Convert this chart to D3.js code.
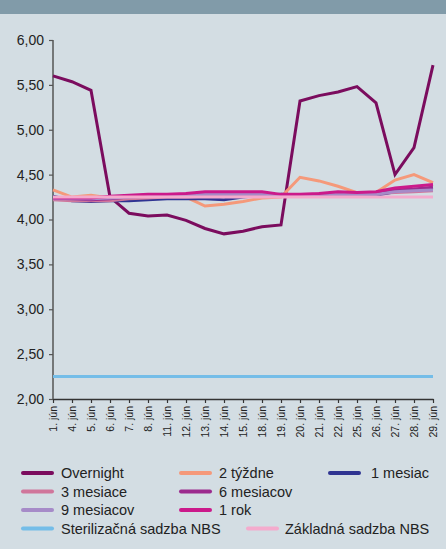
<!DOCTYPE html>
<html>
<head>
<meta charset="utf-8">
<script src="https://cdn.jsdelivr.net/npm/d3@7"></script>
<style>
  body { margin: 0; background: #d3dde3; }
  svg { display: block; }
  text { font-family: "Liberation Sans", Arial, sans-serif; fill: #222; }
</style>
</head>
<body>
<svg id="chart" width="446" height="549"></svg>
<script>
// dni v juni
var dates = ["1. jún", "4. jún", "5. jún", "6. jún", "7. jún", "8. jún", "11. jún", "12. jún", "13. jún", "14. jún",
    "15. jún", "18. jún", "19. jún", "20. jún", "21. jún", "22. jún", "25. jún", "26. jún", "27. jún", "28. jún", "29. jún"];
var yTicks = [2.0, 2.5, 3.0, 3.5, 4.0, 4.5, 5.0, 5.5, 6.0];

var overnight = [5.60, 5.535, 5.44, 4.25, 4.07, 4.04, 4.05, 3.99, 3.90, 3.84, 3.87, 3.92, 3.94, 5.32, 5.38, 5.42, 5.48, 5.30, 4.50, 4.80, 5.72];
var tyzdne2 = [4.33, 4.25, 4.27, 4.24, 4.24, 4.25, 4.26, 4.25, 4.15, 4.17, 4.20, 4.24, 4.25, 4.47, 4.43, 4.37, 4.30, 4.30, 4.44, 4.50, 4.41];
var mesiac1 = [4.26, 4.21, 4.20, 4.21, 4.21, 4.22, 4.23, 4.23, 4.23, 4.22, 4.25, 4.27, 4.28, 4.27, 4.27, 4.27, 4.27, 4.27, 4.31, 4.33, 4.34];
var mesiace3 = [4.22, 4.21, 4.21, 4.21, 4.23, 4.24, 4.25, 4.25, 4.26, 4.26, 4.26, 4.26, 4.26, 4.26, 4.27, 4.28, 4.28, 4.29, 4.30, 4.31, 4.32];
var mesiacov6 = [4.24, 4.23, 4.22, 4.23, 4.25, 4.26, 4.27, 4.28, 4.29, 4.29, 4.29, 4.29, 4.27, 4.27, 4.28, 4.29, 4.29, 4.29, 4.33, 4.34, 4.36];
var mesiacov9 = [4.23, 4.23, 4.23, 4.24, 4.25, 4.26, 4.27, 4.27, 4.28, 4.28, 4.28, 4.28, 4.27, 4.27, 4.28, 4.28, 4.28, 4.28, 4.31, 4.32, 4.33];
var rok1 = [4.24, 4.24, 4.24, 4.26, 4.27, 4.28, 4.28, 4.29, 4.31, 4.31, 4.31, 4.31, 4.28, 4.28, 4.29, 4.31, 4.30, 4.31, 4.35, 4.37, 4.39];
var sterilizacna = [2.25, 2.25, 2.25, 2.25, 2.25, 2.25, 2.25, 2.25, 2.25, 2.25, 2.25, 2.25, 2.25, 2.25, 2.25, 2.25, 2.25, 2.25, 2.25, 2.25, 2.25];
var zakladna = [4.25, 4.25, 4.25, 4.25, 4.25, 4.25, 4.25, 4.25, 4.25, 4.25, 4.25, 4.25, 4.25, 4.25, 4.25, 4.25, 4.25, 4.25, 4.25, 4.25, 4.25];

var series = [
    {name: "Overnight", values: overnight, color: "#7b0c5e", col: 0, row: 0},
    {name: "2 týždne", values: tyzdne2, color: "#f5997a", col: 1, row: 0},
    {name: "1 mesiac", values: mesiac1, color: "#2f3492", col: 2, row: 0},
    {name: "3 mesiace", values: mesiace3, color: "#d0769b", col: 0, row: 1},
    {name: "6 mesiacov", values: mesiacov6, color: "#9c2b8e", col: 1, row: 1},
    {name: "9 mesiacov", values: mesiacov9, color: "#a68bc8", col: 0, row: 2},
    {name: "1 rok", values: rok1, color: "#cb1a8b", col: 1, row: 2},
    {name: "Sterilizačná sadzba NBS", values: sterilizacna, color: "#74bde8", col: 0, row: 3},
    {name: "Základná sadzba NBS", values: zakladna, color: "#f4abcd", col: 3, row: 3}
];

var svg = d3.select('#chart');

// horny pruh
svg.append('rect').attr('x', 0).attr('y', 0).attr('width', 446).attr('height', 14).attr('fill', '#819ba9');

var x = d3.scalePoint().domain(dates).range([53, 433]);
var y = d3.scaleLinear().domain([2, 6]).range([399, 40]);

// os y
var yAxis = svg.append('g')
    .attr('transform', 'translate(53,0)')
    .call(d3.axisLeft(y).tickValues(yTicks).tickSize(4).tickPadding(5)
        .tickFormat(function (d) { return d3.format('.2f')(d).replace('.', ','); }));
yAxis.select('.domain').attr('stroke', '#555').attr('stroke-width', 1.5).attr('d', 'M0,40V399');
yAxis.selectAll('.tick line').attr('stroke', '#555').attr('stroke-width', 1.2);
yAxis.selectAll('.tick text').attr('font-size', 14).attr('fill', '#222')
    .style('font-family', '"Liberation Sans", Arial, sans-serif');

// os x
var xAxis = svg.append('g')
    .attr('transform', 'translate(0,399)')
    .call(d3.axisBottom(x).tickSize(4).tickSizeOuter(0));
xAxis.select('.domain').attr('stroke', '#333').attr('stroke-width', 1.5);
xAxis.selectAll('.tick line').attr('stroke', '#333').attr('stroke-width', 1.2);
xAxis.selectAll('.tick text')
    .attr('font-size', 10.5)
    .attr('fill', '#222')
    .style('font-family', '"Liberation Sans", Arial, sans-serif')
    .attr('text-anchor', 'end')
    .attr('transform', 'rotate(-90)')
    .attr('x', -7)
    .attr('y', 0)
    .attr('dy', '0.35em');

// ciary
var line = d3.line()
    .x(function (d, i) { return x(dates[i]); })
    .y(function (d) { return y(d); });

svg.append('g').selectAll('path')
    .data(series)
    .enter().append('path')
    .attr('d', function (d) { return line(d.values); })
    .attr('fill', 'none')
    .attr('stroke', function (d) { return d.color; })
    .attr('stroke-width', 3)
    .attr('stroke-linejoin', 'miter');

// legenda
var colX = [23, 181, 330, 248];
var legend = svg.append('g').selectAll('g')
    .data(series)
    .enter().append('g')
    .attr('transform', function (d) {
        return 'translate(' + colX[d.col] + ',' + (473 + d.row * 18.5) + ')';
    });

legend.append('line')
    .attr('x1', 0).attr('x2', 29)
    .attr('y1', 0).attr('y2', 0)
    .attr('stroke', function (d) { return d.color; })
    .attr('stroke-width', 4)
    .attr('stroke-linecap', 'round');

legend.append('text')
    .attr('x', function (d) { return d.col == 3 ? 37 : d.col == 2 ? 41 : 38; })
    .attr('y', 0)
    .attr('dy', '0.36em')
    .attr('font-size', 14.5)
    .text(function (d) { return d.name; });
</script>
</body>
</html>
